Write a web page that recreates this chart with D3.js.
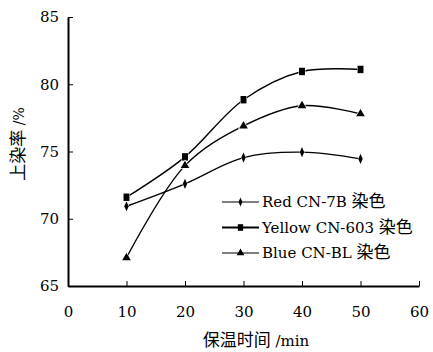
<!DOCTYPE html>
<html>
<head>
<meta charset="utf-8">
<script src="https://cdn.jsdelivr.net/npm/d3@7"></script>
<style>
  body { margin: 0; background: #fff; }
  svg { display: block; font-family: "DejaVu Serif", "Liberation Serif", serif; }
  .cjk { font-family: "Noto Sans CJK SC", sans-serif; font-size: 17px; }
</style>
</head>
<body>
<svg id="chart" width="433" height="352"></svg>
<script>
// data
const times = [10, 20, 30, 40, 50];
const redValues = [70.93, 72.6, 74.55, 74.95, 74.45];
const yellowValues = [71.6, 74.6, 78.85, 80.95, 81.1];
const blueValues = [67.1, 73.95, 76.9, 78.4, 77.8];
const seriesNames = [["Red CN-7B ", "染色"], ["Yellow CN-603 ", "染色"], ["Blue CN-BL ", "染色"]];
const xTicks = [0, 10, 20, 30, 40, 50, 60];
const yTicks = [65, 70, 75, 80, 85];

const svg = d3.select("svg#chart");

//chart plot area
const padding = { top: 17, right: 14, bottom: 66, left: 68 };
const chartArea = {
  width: +svg.attr("width") - padding.left - padding.right,
  height: +svg.attr("height") - padding.top - padding.bottom
};

const xScale = d3.scaleLinear().domain([0, 60]).range([0, chartArea.width]);
const yScale = d3.scaleLinear().domain([65, 85]).range([chartArea.height, 0]);

const g = svg.append("g")
  .attr("transform", `translate(${padding.left}, ${padding.top})`);

// axes, ticks point inward
const xAxis = g.append("g")
  .attr("transform", `translate(0, ${chartArea.height})`)
  .call(d3.axisBottom(xScale).tickValues(xTicks).tickSizeInner(-5).tickSizeOuter(0).tickPadding(20));

const yAxis = g.append("g")
  .call(d3.axisLeft(yScale).tickValues(yTicks).tickSizeInner(-5).tickSizeOuter(0).tickPadding(9));

[xAxis, yAxis].forEach(a => {
  a.select(".domain").attr("stroke", "#000").attr("stroke-width", 2);
  a.selectAll(".tick line").attr("stroke", "#000").attr("stroke-width", 1);
  a.selectAll(".tick text")
    .attr("fill", "#000")
    .style("font-size", "15px")
    .style("font-family", "'DejaVu Serif', serif");
});

// axis titles (CJK part and latin part in separate tspans)
const xTitle = svg.append("text")
  .attr("x", 256).attr("y", 346)
  .attr("text-anchor", "middle")
  .style("font-size", "15px");
xTitle.append("tspan").attr("class", "cjk").text("保温时间");
xTitle.append("tspan").text(" /min");

const yTitle = svg.append("text")
  .attr("transform", "translate(24, 144) rotate(-90)")
  .attr("text-anchor", "middle")
  .style("font-size", "14px");
yTitle.append("tspan").attr("class", "cjk").text("上染率");
yTitle.append("tspan").text(" /%");

// series
const series = [
  { name: seriesNames[0], values: redValues, shape: d3.symbolDiamond, size: 30, sx: 0.75 },
  { name: seriesNames[1], values: yellowValues, shape: d3.symbolSquare, size: 55, sx: 0.8 },
  { name: seriesNames[2], values: blueValues, shape: d3.symbolTriangle, size: 32, sx: 1 }
];

const line = d3.line()
  .x(d => xScale(d.t))
  .y(d => yScale(d.v))
  .curve(d3.curveCatmullRom.alpha(0.5));

series.forEach(s => {
  const pts = times.map((t, i) => ({ t: t, v: s.values[i] }));
  g.append("path")
    .attr("d", line(pts))
    .attr("fill", "none")
    .attr("stroke", "#000")
    .attr("stroke-width", 1.4);

  g.selectAll(null)
    .data(pts)
    .enter()
    .append("path")
    .attr("d", d3.symbol().type(s.shape).size(s.size))
    .attr("transform", d => `translate(${xScale(d.t)}, ${yScale(d.v)}) scale(${s.sx}, 1)`)
    .attr("fill", "#000")
    .attr("stroke", "#fff")
    .attr("stroke-width", 1.2)
    .attr("paint-order", "stroke");
});

// legend
const legend = svg.append("g").attr("transform", "translate(222, 202)");
series.forEach((s, i) => {
  const row = legend.append("g").attr("transform", `translate(0, ${i * 25.5})`);
  row.append("line")
    .attr("x1", 0).attr("x2", 37)
    .attr("stroke", "#000")
    .attr("stroke-width", i === 1 ? 2.2 : 1.2);
  row.append("path")
    .attr("d", d3.symbol().type(s.shape).size(s.size * 0.8))
    .attr("transform", `translate(18.5, 0) scale(${s.sx}, 1)`)
    .attr("fill", "#000");
  const t = row.append("text")
    .attr("x", 40).attr("y", 5)
    .style("font-size", "15px");
  t.append("tspan").text(s.name[0]);
  t.append("tspan").attr("class", "cjk").text(s.name[1]);
});
</script>
</body>
</html>
